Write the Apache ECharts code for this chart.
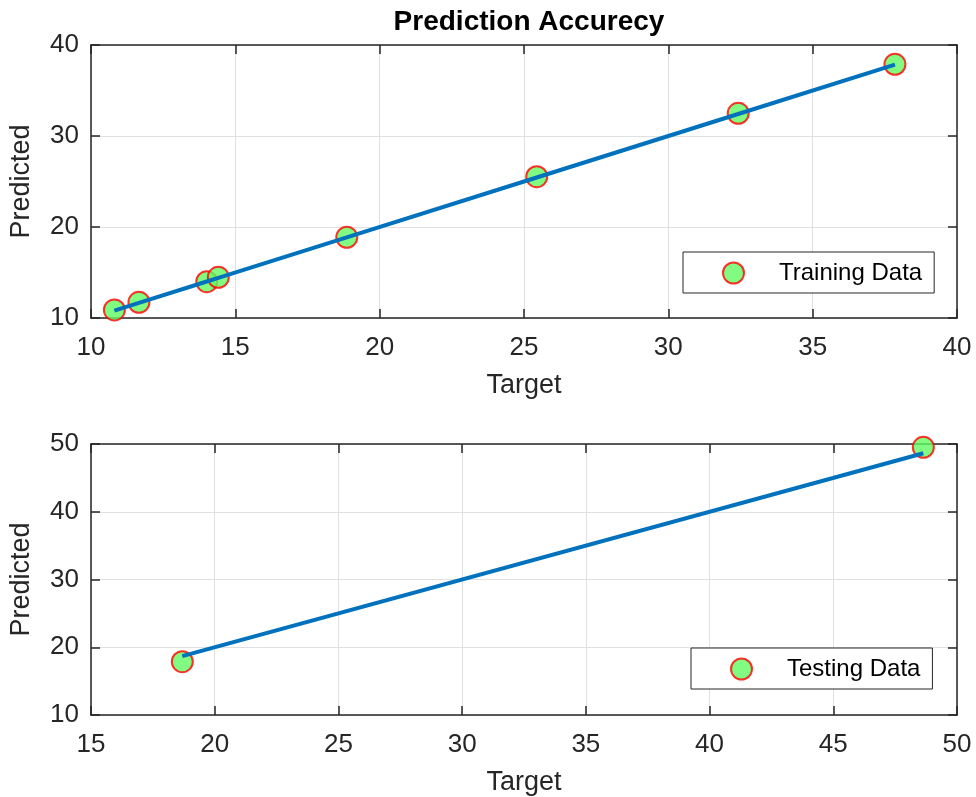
<!DOCTYPE html>
<html>
<head>
<meta charset="utf-8">
<script src="https://cdn.jsdelivr.net/npm/echarts@6/dist/echarts.min.js"></script>
<style>html,body{margin:0;padding:0;background:#fff}#c{width:976px;height:797px}</style>
</head>
<body>
<div id="c"></div>
<script>
const trainTarget = [10.81, 11.66, 14.01, 14.41, 18.86, 25.44, 32.42, 37.85];
const trainPred   = [10.88, 11.73, 13.99, 14.47, 18.87, 25.53, 32.49, 37.88];
const testTarget  = [18.69, 48.64];
const testPred    = [17.87, 49.51];
const titleText = 'Prediction Accurecy';
const xName = 'Target';
const yName = 'Predicted';
const trainName = 'Training Data';
const testName = 'Testing Data';

const FONT = '"Liberation Sans", Arial, Helvetica, sans-serif';
const AX = '#262626';
const GRIDC = '#e0e0e0';

function mainX(gi, min, max, interval) {
  return {
    gridIndex: gi, type: 'value', position: 'bottom', min, max, interval,
    name: xName, nameLocation: 'middle', nameGap: 54,
    nameTextStyle: {fontFamily: FONT, fontSize: 27, color: AX},
    axisLine: {show: true, onZero: false, lineStyle: {color: AX, width: 1.5}},
    axisTick: {show: true, inside: true, length: 9, lineStyle: {color: AX, width: 1.5}},
    axisLabel: {show: true, margin: 17, fontFamily: FONT, fontSize: 26, color: AX, showMinLabel: true, showMaxLabel: true},
    splitLine: {show: true, lineStyle: {color: GRIDC, width: 1}}
  };
}
function mirrorX(gi, min, max, interval) {
  return {
    gridIndex: gi, type: 'value', position: 'top', min, max, interval,
    axisLine: {show: true, onZero: false, lineStyle: {color: AX, width: 1.5}},
    axisTick: {show: true, inside: true, length: 9, lineStyle: {color: AX, width: 1.5}},
    axisLabel: {show: false}, splitLine: {show: false}
  };
}
function mainY(gi, min, max, interval) {
  return {
    gridIndex: gi, type: 'value', position: 'left', min, max, interval,
    name: yName, nameLocation: 'middle', nameGap: 56,
    nameTextStyle: {fontFamily: FONT, fontSize: 27, color: AX},
    axisLine: {show: true, onZero: false, lineStyle: {color: AX, width: 1.5}},
    axisTick: {show: true, inside: true, length: 9, lineStyle: {color: AX, width: 1.5}},
    axisLabel: {show: true, margin: 12, fontFamily: FONT, fontSize: 26, color: AX, showMinLabel: true, showMaxLabel: true},
    splitLine: {show: true, lineStyle: {color: GRIDC, width: 1}}
  };
}
function mirrorY(gi, min, max, interval) {
  return {
    gridIndex: gi, type: 'value', position: 'right', min, max, interval,
    axisLine: {show: true, onZero: false, lineStyle: {color: AX, width: 1.5}},
    axisTick: {show: true, inside: true, length: 9, lineStyle: {color: AX, width: 1.5}},
    axisLabel: {show: false}, splitLine: {show: false}
  };
}
function pairs(xs, ys) { return xs.map((x, i) => [x, ys[i]]); }
function ideal(xs) { const s = xs.slice().sort((a, b) => a - b); return s.map(v => [v, v]); }

const scatterStyle = {color: '#62fa62', borderColor: '#ff0000', borderWidth: 2};

function legendFor(name, left, top) {
  return {
    data: [{name, icon: 'circle'}],
    left, top, orient: 'horizontal',
    itemWidth: 21, itemHeight: 21,
    padding: [9, 12, 8, 39],
    borderColor: AX, borderWidth: 1, backgroundColor: '#fff',
    itemStyle: {color: '#62fa62', borderColor: '#ff0000', borderWidth: 2},
    textStyle: {fontFamily: FONT, fontSize: 24, color: '#000', padding: [0, 0, 0, 30]},
    selectedMode: false
  };
}

const option = {
  animation: false,
  backgroundColor: '#fff',
  title: {
    text: titleText, left: 524, top: 3, textAlign: 'center',
    textStyle: {fontFamily: FONT, fontSize: 28, fontWeight: 'bold', color: '#000'}
  },
  legend: [legendFor(trainName, 683, 252), legendFor(testName, 691, 648)],
  grid: [
    {left: 91, right: 19, top: 45, height: 273},
    {left: 91, right: 19, top: 444, height: 271}
  ],
  xAxis: [mainX(0, 10, 40, 5), mirrorX(0, 10, 40, 5), mainX(1, 15, 50, 5), mirrorX(1, 15, 50, 5)],
  yAxis: [mainY(0, 10, 40, 10), mirrorY(0, 10, 40, 10), mainY(1, 10, 50, 10), mirrorY(1, 10, 50, 10)],
  series: [
    {name: trainName, type: 'scatter', xAxisIndex: 0, yAxisIndex: 0, symbol: 'circle', symbolSize: 21,
     itemStyle: scatterStyle, data: pairs(trainTarget, trainPred), z: 2},
    {name: 'trainLine', type: 'line', xAxisIndex: 0, yAxisIndex: 0, showSymbol: false, symbol: 'none',
     lineStyle: {color: '#0072BD', width: 4}, data: ideal(trainTarget), z: 3},
    {name: testName, type: 'scatter', xAxisIndex: 2, yAxisIndex: 2, symbol: 'circle', symbolSize: 21,
     itemStyle: scatterStyle, data: pairs(testTarget, testPred), z: 2},
    {name: 'testLine', type: 'line', xAxisIndex: 2, yAxisIndex: 2, showSymbol: false, symbol: 'none',
     lineStyle: {color: '#0072BD', width: 4}, data: ideal(testTarget), z: 3}
  ]
};
const chart = echarts.init(document.getElementById('c'), null, {renderer: 'canvas'});
chart.setOption(option);
</script>
</body>
</html>
